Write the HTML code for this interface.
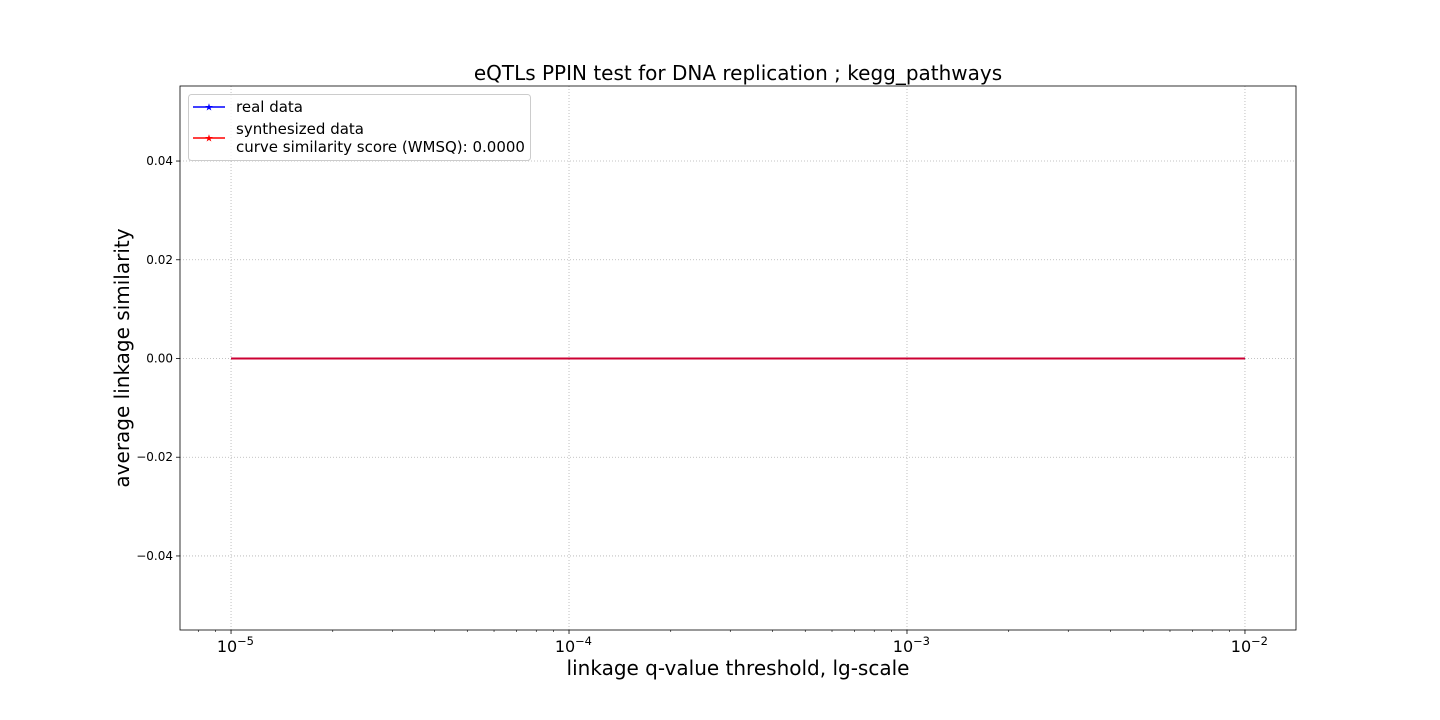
<!DOCTYPE html>
<html><head><meta charset="utf-8"><style>
html,body{margin:0;padding:0;background:#fff;}
svg{display:block;font-family:"DejaVu Sans","Liberation Sans",sans-serif;}
</style></head><body>
<svg id="chart" width="1440" height="720" viewBox="0 0 1440 720">
<rect width="1440" height="720" fill="#fff"/>
<g id="grid"></g>
<g id="series"></g>
<g id="axes"></g>
<text x="738" y="80" font-size="20" text-anchor="middle" fill="#000">eQTLs PPIN test for DNA replication ; kegg_pathways</text>
<text x="738" y="675" font-size="20" text-anchor="middle" fill="#000">linkage q-value threshold, lg-scale</text>
<text transform="translate(129,358) rotate(-90)" font-size="20" text-anchor="middle" fill="#000">average linkage similarity</text>
<g>
<rect x="188.5" y="94.5" width="342" height="66" rx="3" fill="#fff" fill-opacity="0.8" stroke="#ccc"/>
<line x1="193" y1="107" x2="225" y2="107" stroke="#0000ff" stroke-width="1.5"/>
<text x="209" y="110.5" font-size="10" fill="#0000ff" text-anchor="middle">★</text>
<text x="236" y="112" font-size="15" fill="#000">real data</text>
<line x1="193" y1="138" x2="225" y2="138" stroke="#ff0000" stroke-width="1.5"/>
<text x="209" y="141.5" font-size="10" fill="#ff0000" text-anchor="middle">★</text>
<text x="236" y="134" font-size="15" fill="#000">synthesized data</text>
<text x="236" y="152" font-size="15" fill="#000">curve similarity score (WMSQ): 0.0000</text>
</g>
</svg>
<script>
const xValues = [1e-5, 2e-5, 5e-5, 1e-4, 2e-4, 5e-4, 1e-3, 2e-3, 5e-3, 1e-2];
const realValues = [0, 0, 0, 0, 0, 0, 0, 0, 0, 0];
const synthValues = [0, 0, 0, 0, 0, 0, 0, 0, 0, 0];
const yTicks = [-0.04, -0.02, 0, 0.02, 0.04];
const yTickLabels = ["\u22120.04", "\u22120.02", "0.00", "0.02", "0.04"];
const xMajorExps = [-5, -4, -3, -2];

const L=180,R=1296,T=86,B=630;
const xMinL=-5.151, xMaxL=-1.849, yMin=-0.055, yMax=0.0552;
const sx=v=>L+(Math.log10(v)-xMinL)/(xMaxL-xMinL)*(R-L);
const sy=v=>B-(v-yMin)/(yMax-yMin)*(B-T);
const NS="http://www.w3.org/2000/svg";
function mk(tag,attrs,parent){const e=document.createElementNS(NS,tag);for(const k in attrs)e.setAttribute(k,attrs[k]);parent.appendChild(e);return e;}
const grid=document.getElementById('grid'),axes=document.getElementById('axes'),series=document.getElementById('series');

yTicks.forEach((t,i)=>{
  const y=sy(t);
  const g=mk('line',{x1:L,x2:R,y1:y,y2:y,stroke:'#b0b0b0','stroke-width':0.8,'stroke-dasharray':'1,2'},grid);
  
  
  mk('line',{x1:L-4,x2:L,y1:y,y2:y,stroke:'#000','stroke-width':0.8},axes);
  const tx=mk('text',{x:L-7,y:y+4,'font-size':12,'text-anchor':'end',fill:'#000'},axes);
  tx.textContent=yTickLabels[i];
  
  
});
xMajorExps.forEach(e=>{
  const x=sx(Math.pow(10,e));
  const g=mk('line',{x1:x,x2:x,y1:T,y2:B,stroke:'#b0b0b0','stroke-width':0.8,'stroke-dasharray':'1,2'},grid);
  
  
  mk('line',{x1:x,x2:x,y1:B,y2:B+4,stroke:'#000','stroke-width':0.8},axes);
  const tx=mk('text',{x:x-4,y:B+22,'font-size':16,'text-anchor':'middle',fill:'#000'},axes);
  tx.textContent='10';
  
  
  const sp=mk('text',{x:x+6,y:B+15,'font-size':11.5,'text-anchor':'start',fill:'#000'},axes);
  sp.textContent='\u2212'+Math.abs(e);
});
for(let e=-6;e<=-2;e++){for(let m=2;m<=9;m++){const v=m*Math.pow(10,e);const lv=Math.log10(v);if(lv<xMinL||lv>xMaxL)continue;const x=sx(v);mk('line',{x1:x,x2:x,y1:B,y2:B+2,stroke:'#000','stroke-width':0.6},axes);}}
mk('rect',{x:L,y:T,width:R-L,height:B-T,fill:'none',stroke:'#000','stroke-width':0.8},axes);

function path(vals){return vals.map((v,i)=>(i?'L':'M')+sx(xValues[i]).toFixed(2)+','+sy(v).toFixed(2)).join(' ');}
const p1=mk('path',{d:path(realValues),fill:'none',stroke:'#0000ff','stroke-width':2},series);


const p2=mk('path',{d:path(synthValues),fill:'none',stroke:'#ff0000','stroke-opacity':0.8,'stroke-width':2},series);


</script>
</body></html>
